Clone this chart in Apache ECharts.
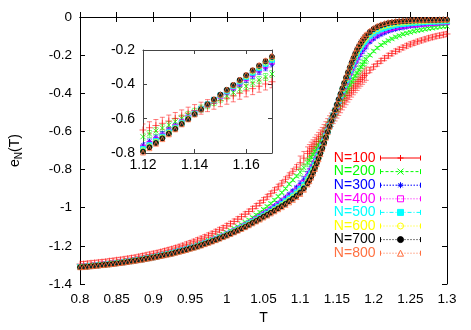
<!DOCTYPE html>
<html>
<head>
<meta charset="utf-8">
<script src="https://cdn.jsdelivr.net/npm/echarts@6/dist/echarts.min.js"></script>
<style>
  html, body { margin: 0; padding: 0; background: #fff; }
  #chart { width: 471px; height: 330px; }
</style>
</head>
<body>
<div id="chart"></div>
<script>
// temperature grid, finer through the transition
var T = [
  0.8, 0.805, 0.81, 0.815, 0.82, 0.825, 0.83, 0.835, 0.84, 0.845,
  0.85, 0.855, 0.86, 0.865, 0.87, 0.875, 0.88, 0.885, 0.89, 0.895,
  0.9, 0.905, 0.91, 0.915, 0.92, 0.925, 0.93, 0.935, 0.94, 0.945,
  0.95, 0.955, 0.96, 0.965, 0.97, 0.975, 0.98, 0.985, 0.99, 0.995,
  1, 1.005, 1.01, 1.015, 1.02, 1.025, 1.03, 1.035, 1.04, 1.045,
  1.05, 1.055, 1.06, 1.065, 1.07, 1.075, 1.08, 1.085, 1.09, 1.095,
  1.1, 1.105, 1.11,
  1.1125, 1.115, 1.1175, 1.12, 1.1225, 1.125, 1.1275, 1.13, 1.1325, 1.135, 1.1375, 1.14,
  1.1425, 1.145, 1.1475, 1.15, 1.1525, 1.155, 1.1575, 1.16, 1.1625, 1.165, 1.1675, 1.17,
  1.1725, 1.175, 1.1775, 1.18, 1.1825, 1.185, 1.1875,
  1.19, 1.195, 1.2, 1.205, 1.21, 1.215, 1.22, 1.225, 1.23, 1.235, 1.24, 1.245,
  1.25, 1.255, 1.26, 1.265, 1.27, 1.275, 1.28, 1.285, 1.29, 1.295, 1.3
];

var e100 = [
  -1.296, -1.295, -1.293, -1.291, -1.289, -1.287, -1.285, -1.283, -1.280, -1.278,
  -1.275, -1.273, -1.270, -1.267, -1.264, -1.261, -1.257, -1.253, -1.249, -1.245,
  -1.241, -1.237, -1.232, -1.227, -1.222, -1.217, -1.211, -1.205, -1.199, -1.192,
  -1.185, -1.178, -1.170, -1.162, -1.154, -1.145, -1.136, -1.126, -1.116, -1.106,
  -1.095, -1.084, -1.072, -1.060, -1.047, -1.034, -1.020, -1.006, -0.991, -0.976,
  -0.960, -0.943, -0.926, -0.908, -0.890, -0.871, -0.851, -0.830, -0.809, -0.787,
  -0.764, -0.740, -0.716,
  -0.704, -0.691, -0.679, -0.666, -0.653, -0.640, -0.627, -0.614, -0.599, -0.584, -0.568, -0.553,
  -0.539, -0.524, -0.510, -0.495, -0.481, -0.467, -0.452, -0.438, -0.425, -0.411, -0.398, -0.385,
  -0.373, -0.362, -0.350, -0.338, -0.328, -0.318, -0.307,
  -0.297, -0.279, -0.261, -0.245, -0.230, -0.216, -0.203, -0.191, -0.180, -0.170, -0.160, -0.151,
  -0.143, -0.136, -0.129, -0.123, -0.117, -0.111, -0.106, -0.101, -0.097, -0.093, -0.089
];
var e200 = [
  -1.307, -1.306, -1.304, -1.302, -1.300, -1.298, -1.296, -1.294, -1.292, -1.290,
  -1.287, -1.285, -1.282, -1.279, -1.276, -1.273, -1.270, -1.266, -1.262, -1.259,
  -1.255, -1.251, -1.247, -1.242, -1.238, -1.234, -1.228, -1.223, -1.218, -1.212,
  -1.206, -1.200, -1.194, -1.187, -1.180, -1.172, -1.165, -1.157, -1.148, -1.140,
  -1.131, -1.121, -1.110, -1.100, -1.089, -1.077, -1.065, -1.052, -1.038, -1.024,
  -1.009, -0.994, -0.978, -0.960, -0.941, -0.921, -0.900, -0.876, -0.855, -0.834,
  -0.813, -0.790, -0.765,
  -0.751, -0.736, -0.721, -0.705, -0.689, -0.672, -0.655, -0.637, -0.618, -0.599, -0.579, -0.560,
  -0.541, -0.522, -0.503, -0.484, -0.466, -0.447, -0.428, -0.410, -0.392, -0.374, -0.357, -0.340,
  -0.324, -0.309, -0.293, -0.277, -0.262, -0.249, -0.235,
  -0.222, -0.200, -0.179, -0.162, -0.147, -0.135, -0.124, -0.114, -0.105, -0.098, -0.090, -0.085,
  -0.080, -0.075, -0.071, -0.068, -0.064, -0.061, -0.058, -0.055, -0.052, -0.050, -0.048
];
var e300 = [
  -1.309, -1.308, -1.306, -1.304, -1.302, -1.300, -1.298, -1.296, -1.294, -1.292,
  -1.289, -1.287, -1.284, -1.281, -1.278, -1.275, -1.272, -1.269, -1.265, -1.262,
  -1.258, -1.254, -1.249, -1.245, -1.241, -1.237, -1.232, -1.227, -1.221, -1.216,
  -1.210, -1.205, -1.198, -1.192, -1.185, -1.177, -1.170, -1.163, -1.154, -1.146,
  -1.137, -1.129, -1.119, -1.109, -1.099, -1.089, -1.078, -1.066, -1.054, -1.042,
  -1.029, -1.017, -1.003, -0.989, -0.975, -0.960, -0.945, -0.928, -0.910, -0.892,
  -0.874, -0.851, -0.825,
  -0.809, -0.792, -0.773, -0.754, -0.733, -0.711, -0.689, -0.666, -0.641, -0.617, -0.592, -0.568,
  -0.544, -0.519, -0.495, -0.471, -0.447, -0.423, -0.398, -0.374, -0.351, -0.328, -0.306, -0.284,
  -0.263, -0.244, -0.225, -0.207, -0.192, -0.177, -0.164,
  -0.152, -0.132, -0.116, -0.103, -0.093, -0.084, -0.076, -0.070, -0.065, -0.060, -0.057, -0.053,
  -0.050, -0.048, -0.046, -0.043, -0.041, -0.039, -0.038, -0.036, -0.034, -0.033, -0.032
];
var e400 = [
  -1.310, -1.309, -1.307, -1.305, -1.303, -1.301, -1.299, -1.297, -1.295, -1.293,
  -1.290, -1.288, -1.285, -1.282, -1.279, -1.276, -1.273, -1.270, -1.266, -1.263,
  -1.259, -1.255, -1.251, -1.247, -1.242, -1.238, -1.233, -1.228, -1.223, -1.218,
  -1.212, -1.206, -1.200, -1.194, -1.187, -1.180, -1.172, -1.165, -1.157, -1.149,
  -1.140, -1.132, -1.122, -1.113, -1.103, -1.093, -1.083, -1.071, -1.060, -1.048,
  -1.036, -1.024, -1.011, -0.998, -0.986, -0.972, -0.957, -0.942, -0.926, -0.909,
  -0.892, -0.869, -0.842,
  -0.826, -0.809, -0.789, -0.768, -0.746, -0.723, -0.699, -0.674, -0.648, -0.622, -0.596, -0.570,
  -0.544, -0.519, -0.493, -0.467, -0.441, -0.416, -0.390, -0.364, -0.339, -0.314, -0.290, -0.267,
  -0.245, -0.225, -0.206, -0.188, -0.173, -0.158, -0.144,
  -0.133, -0.115, -0.100, -0.087, -0.076, -0.069, -0.062, -0.057, -0.052, -0.048, -0.045, -0.043,
  -0.040, -0.038, -0.037, -0.035, -0.034, -0.032, -0.031, -0.030, -0.028, -0.027, -0.027
];
var e500 = [
  -1.311, -1.310, -1.308, -1.306, -1.304, -1.302, -1.300, -1.298, -1.296, -1.294,
  -1.291, -1.289, -1.286, -1.283, -1.280, -1.277, -1.274, -1.271, -1.267, -1.264,
  -1.260, -1.256, -1.252, -1.247, -1.243, -1.239, -1.234, -1.229, -1.224, -1.219,
  -1.213, -1.208, -1.202, -1.195, -1.188, -1.181, -1.174, -1.167, -1.159, -1.151,
  -1.142, -1.134, -1.125, -1.115, -1.106, -1.097, -1.086, -1.075, -1.065, -1.053,
  -1.042, -1.031, -1.019, -1.006, -0.994, -0.981, -0.966, -0.952, -0.937, -0.920,
  -0.903, -0.881, -0.854,
  -0.837, -0.819, -0.799, -0.777, -0.754, -0.730, -0.705, -0.679, -0.653, -0.626, -0.599, -0.572,
  -0.545, -0.518, -0.491, -0.464, -0.438, -0.411, -0.384, -0.357, -0.332, -0.306, -0.281, -0.257,
  -0.234, -0.212, -0.193, -0.175, -0.159, -0.144, -0.131,
  -0.119, -0.100, -0.086, -0.074, -0.065, -0.058, -0.052, -0.047, -0.043, -0.039, -0.037, -0.035,
  -0.033, -0.031, -0.030, -0.028, -0.027, -0.026, -0.025, -0.024, -0.023, -0.023, -0.022
];
var e600 = [
  -1.311, -1.310, -1.308, -1.306, -1.304, -1.302, -1.300, -1.298, -1.296, -1.294,
  -1.291, -1.289, -1.286, -1.283, -1.280, -1.277, -1.274, -1.271, -1.267, -1.264,
  -1.260, -1.256, -1.252, -1.248, -1.244, -1.240, -1.235, -1.230, -1.225, -1.220,
  -1.214, -1.208, -1.202, -1.196, -1.189, -1.182, -1.175, -1.168, -1.160, -1.152,
  -1.143, -1.135, -1.126, -1.117, -1.108, -1.099, -1.088, -1.078, -1.067, -1.057,
  -1.046, -1.035, -1.023, -1.011, -0.999, -0.987, -0.973, -0.959, -0.944, -0.928,
  -0.912, -0.889, -0.862,
  -0.845, -0.827, -0.806, -0.784, -0.760, -0.735, -0.710, -0.683, -0.656, -0.628, -0.600, -0.573,
  -0.545, -0.518, -0.490, -0.463, -0.435, -0.408, -0.380, -0.353, -0.326, -0.299, -0.274, -0.249,
  -0.225, -0.204, -0.184, -0.165, -0.149, -0.133, -0.120,
  -0.109, -0.090, -0.075, -0.064, -0.055, -0.049, -0.043, -0.039, -0.035, -0.032, -0.030, -0.028,
  -0.026, -0.025, -0.024, -0.023, -0.022, -0.021, -0.020, -0.020, -0.019, -0.018, -0.018
];
var e700 = [
  -1.312, -1.311, -1.309, -1.307, -1.305, -1.303, -1.301, -1.299, -1.297, -1.295,
  -1.292, -1.290, -1.287, -1.284, -1.281, -1.278, -1.275, -1.272, -1.268, -1.265,
  -1.261, -1.257, -1.253, -1.249, -1.245, -1.241, -1.235, -1.230, -1.225, -1.220,
  -1.214, -1.209, -1.203, -1.197, -1.190, -1.183, -1.176, -1.169, -1.161, -1.153,
  -1.145, -1.137, -1.128, -1.119, -1.110, -1.101, -1.091, -1.080, -1.070, -1.059,
  -1.048, -1.038, -1.027, -1.016, -1.004, -0.992, -0.980, -0.966, -0.953, -0.938,
  -0.921, -0.899, -0.872,
  -0.855, -0.836, -0.814, -0.792, -0.767, -0.742, -0.715, -0.688, -0.660, -0.631, -0.603, -0.574,
  -0.546, -0.517, -0.489, -0.460, -0.432, -0.404, -0.375, -0.347, -0.319, -0.292, -0.266, -0.240,
  -0.216, -0.193, -0.172, -0.154, -0.137, -0.122, -0.109,
  -0.098, -0.078, -0.063, -0.052, -0.044, -0.038, -0.032, -0.029, -0.026, -0.024, -0.022, -0.021,
  -0.020, -0.019, -0.018, -0.017, -0.017, -0.016, -0.016, -0.016, -0.015, -0.014, -0.014
];
var e800 = [
  -1.312, -1.311, -1.309, -1.307, -1.305, -1.303, -1.301, -1.299, -1.297, -1.295,
  -1.292, -1.290, -1.287, -1.284, -1.281, -1.278, -1.275, -1.272, -1.268, -1.265,
  -1.261, -1.257, -1.253, -1.249, -1.245, -1.241, -1.236, -1.231, -1.226, -1.221,
  -1.215, -1.210, -1.204, -1.198, -1.191, -1.184, -1.177, -1.170, -1.162, -1.154,
  -1.146, -1.138, -1.129, -1.120, -1.111, -1.102, -1.092, -1.082, -1.072, -1.062,
  -1.051, -1.041, -1.030, -1.019, -1.008, -0.997, -0.985, -0.972, -0.959, -0.944,
  -0.928, -0.906, -0.878,
  -0.861, -0.842, -0.820, -0.797, -0.772, -0.746, -0.719, -0.691, -0.662, -0.633, -0.604, -0.575,
  -0.546, -0.517, -0.488, -0.459, -0.430, -0.401, -0.372, -0.343, -0.315, -0.287, -0.260, -0.234,
  -0.209, -0.186, -0.165, -0.146, -0.129, -0.114, -0.101,
  -0.090, -0.071, -0.057, -0.046, -0.038, -0.032, -0.027, -0.024, -0.021, -0.019, -0.018, -0.017,
  -0.016, -0.015, -0.015, -0.014, -0.014, -0.013, -0.013, -0.013, -0.012, -0.012, -0.012
];

// error bar half widths per size: in the transition (1.10..1.19) and away from it
var errPeak = [0.035, 0.02, 0.015, 0.013, 0.011, 0.010, 0.009, 0.009];
var errLow = [0.013, 0.007, 0.005, 0.004, 0.004, 0.004, 0.004, 0.004];

var names = ['N=100', 'N=200', 'N=300', 'N=400', 'N=500', 'N=600', 'N=700', 'N=800'];
var colors = ['#ff0000', '#00ff00', '#0000ff', '#ff00ff', '#00ffff', '#ffff00', '#000000', '#ff7040'];
var curves = [e100, e200, e300, e400, e500, e600, e700, e800];

var marks = [
  {sym: 'path://M0,5H10M5,0V10', size: 7, filled: false, icon: 'M17,3H23M20,0V6', dash: null},
  {sym: 'path://M0,0L10,10M10,0L0,10', size: 5, filled: false, icon: 'M17,0L23,6M23,0L17,6', dash: [3, 2]},
  {sym: 'path://M0,5H10M5,0V10M1.5,1.5L8.5,8.5M8.5,1.5L1.5,8.5', size: 5, filled: false,
   icon: 'M17,3H23M20,0V6M17.9,0.9L22.1,5.1M22.1,0.9L17.9,5.1', dash: [1.5, 1.5]},
  {sym: 'rect', size: 5, filled: false, icon: 'M17,0H23V6H17Z', dash: [1, 2]},
  {sym: 'rect', size: 5, filled: true, icon: 'M17,0H23V6H17Z', dash: [4, 2, 1, 2]},
  {sym: 'circle', size: 5, filled: false, icon: 'M17,3A3,3 0 1,1 23,3A3,3 0 1,1 17,3Z', dash: [1, 2]},
  {sym: 'circle', size: 5, filled: true, icon: 'M17,3A3,3 0 1,1 23,3A3,3 0 1,1 17,3Z', dash: [1, 2]},
  {sym: 'triangle', size: 5, filled: false, icon: 'M20,0L23,6H17Z', dash: [1, 2]}
];

// legend sample: 40px errorbar line with end caps, optionally dashed
function iconLine(dash) {
  var d = 'M0,0.5V5.5M40,0.5V5.5';
  if (!dash) return d + 'M0,3H40';
  var x = 0, k = 0;
  while (x < 40) {
    var len = dash[k % dash.length];
    if (k % 2 === 0) d += 'M' + x + ',3H' + Math.min(40, x + len);
    x += len; k++;
  }
  return d;
}

var font = "'Liberation Sans', Arial, sans-serif";

function errBars(i, color, cap) {
  return function (params, api) {
    var x = api.value(0), y = api.value(1);
    var err = (x >= 1.1 && x <= 1.19) ? errPeak[i] : errLow[i];
    var lo = api.coord([x, y - err]);
    var hi = api.coord([x, y + err]);
    var st = {stroke: color, lineWidth: 1, opacity: 0.5};
    return {
      type: 'group',
      children: [
        {type: 'line', shape: {x1: lo[0], y1: lo[1], x2: hi[0], y2: hi[1]}, style: st},
        {type: 'line', shape: {x1: lo[0] - cap, y1: lo[1], x2: lo[0] + cap, y2: lo[1]}, style: st},
        {type: 'line', shape: {x1: hi[0] - cap, y1: hi[1], x2: hi[0] + cap, y2: hi[1]}, style: st}
      ]
    };
  };
}

var series = [];
var legendData = [];
curves.forEach(function (arr, i) {
  var pts = T.map(function (t, j) { return [t, arr[j]]; });
  var inPts = pts.filter(function (p) { return p[0] >= 1.1199 && p[0] <= 1.1701; });
  var c = colors[i];
  var itemStyle = {
    color: marks[i].filled ? c : 'rgba(0,0,0,0)',
    borderColor: c, borderWidth: 1, opacity: i === 0 ? 0.6 : 0.8
  };
  [[0, pts], [1, inPts]].forEach(function (g) {
    series.push({
      type: 'custom', name: names[i], xAxisIndex: g[0] * 2, yAxisIndex: g[0] * 2,
      data: g[1], renderItem: errBars(i, c, 2.5), clip: true, silent: true, z: 3
    });
    series.push({
      type: 'scatter', name: names[i], xAxisIndex: g[0] * 2, yAxisIndex: g[0] * 2,
      data: g[1], symbol: marks[i].sym, symbolSize: marks[i].size, itemStyle: itemStyle,
      clip: true, silent: true, z: 3
    });
  });
  legendData.push({
    name: names[i],
    icon: 'path://' + iconLine(marks[i].dash) + marks[i].icon,
    itemStyle: {color: marks[i].filled ? c : 'rgba(0,0,0,0)', borderColor: c, borderWidth: 1},
    textStyle: {color: c}
  });
});

var tickMain = {inside: true, length: 5, lineStyle: {color: '#000'}};
var tickInset = {inside: true, length: 4, lineStyle: {color: '#444'}};
var lineMain = {lineStyle: {color: '#000', width: 1}};
var lineInset = {lineStyle: {color: '#444', width: 1}};

var chart = echarts.init(document.getElementById('chart'));
chart.setOption({
  animation: false,
  backgroundColor: '#fff',
  textStyle: {fontFamily: font},
  grid: [
    {left: 73, right: 24, top: 17, bottom: 43},
    {left: 143, top: 50, width: 129, height: 103, show: true, backgroundColor: '#fff', borderWidth: 0}
  ],
  legend: {
    data: legendData, orient: 'vertical', align: 'right',
    right: 45, top: 146, itemWidth: 40, itemHeight: 6, itemGap: -0.4,
    textStyle: {fontSize: 14, lineHeight: 14, height: 14, fontFamily: font},
    selectedMode: false
  },
  xAxis: [
    {gridIndex: 0, type: 'value', min: 0.8, max: 1.3, interval: 0.05, position: 'bottom',
     axisLine: lineMain, axisTick: tickMain, splitLine: {show: false},
     axisLabel: {fontSize: 13.5, color: '#000', margin: 8, fontFamily: font},
     name: 'T', nameLocation: 'middle', nameGap: 27,
     nameTextStyle: {fontSize: 14, color: '#000', fontFamily: font}},
    {gridIndex: 0, type: 'value', min: 0.8, max: 1.3, interval: 0.05, position: 'top',
     axisLine: lineMain, axisTick: tickMain, splitLine: {show: false}, axisLabel: {show: false}},
    {gridIndex: 1, type: 'value', min: 1.12, max: 1.17, interval: 0.02, position: 'bottom',
     axisLine: lineInset, axisTick: tickInset, splitLine: {show: false},
     axisLabel: {fontSize: 14, color: '#000', margin: 5, showMaxLabel: false, fontFamily: font}},
    {gridIndex: 1, type: 'value', min: 1.12, max: 1.17, interval: 0.02, position: 'top',
     axisLine: lineInset, axisTick: tickInset, splitLine: {show: false}, axisLabel: {show: false}}
  ],
  yAxis: [
    {gridIndex: 0, type: 'value', min: -1.4, max: 0, interval: 0.2, position: 'left',
     axisLine: lineMain, axisTick: tickMain, splitLine: {show: false},
     axisLabel: {fontSize: 13.5, color: '#000', margin: 8, fontFamily: font},
     name: '{e|e}{s|N}{e|(T)}', nameLocation: 'middle', nameGap: 56,
     nameTextStyle: {color: '#000', fontFamily: font,
       rich: {e: {fontSize: 14, color: '#000'}, s: {fontSize: 10, color: '#000', padding: [8, 0, 0, 0]}}}},
    {gridIndex: 0, type: 'value', min: -1.4, max: 0, interval: 0.2, position: 'right',
     axisLine: lineMain, axisTick: tickMain, splitLine: {show: false}, axisLabel: {show: false}},
    {gridIndex: 1, type: 'value', min: -0.8, max: -0.2, interval: 0.2, position: 'left',
     axisLine: lineInset, axisTick: tickInset, splitLine: {show: false},
     axisLabel: {fontSize: 14, color: '#000', margin: 8, fontFamily: font}},
    {gridIndex: 1, type: 'value', min: -0.8, max: -0.2, interval: 0.2, position: 'right',
     axisLine: lineInset, axisTick: tickInset, splitLine: {show: false}, axisLabel: {show: false}}
  ],
  series: series
});
</script>
</body>
</html>
